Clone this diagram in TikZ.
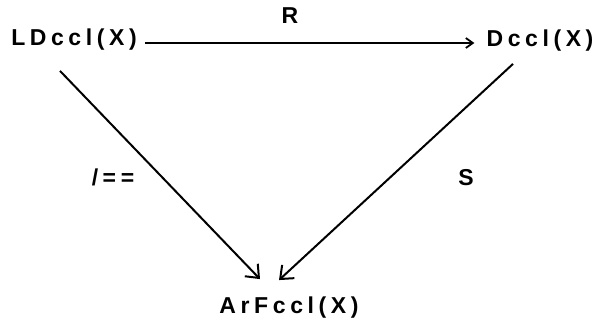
\documentclass[tikz,border=0pt]{standalone}
\usepackage{fontspec}
\setmainfont{Liberation Sans}[LetterSpace=20]
\usetikzlibrary{arrows.meta}
\begin{document}
\begin{tikzpicture}[x=1pt,y=1pt,
  lbl/.style={inner sep=0pt, font=\fontsize{23}{27}\selectfont\bfseries},
  arr/.style={line width=2pt, -{Straight Barb[length=11pt,width=18pt,line width=2pt]}},
  tarr/.style={line width=1.8pt, -{Straight Barb[length=7pt,width=10pt,line width=1.8pt]}}]
\useasboundingbox (0,0) rectangle (599,332);
\node[lbl] (ld) at (74,292) {LDccl(X)};
\node[lbl] (dc) at (540,291) {Dccl(X)};
\node[lbl] (ar) at (289,24) {ArFccl(X)};
\node[lbl] (r) at (290,316) {R};
\node[lbl] (s) at (466,154) {S};
\node[lbl] (f) at (113,155) {/==};
\draw[tarr] ([xshift=8pt,yshift=-3pt]ld.east) -- ([xshift=-12pt,yshift=-2pt]dc.west);
\draw[arr] ([xshift=-14pt,yshift=-20pt]ld.south) -- ([xshift=-29pt,yshift=18pt]ar.north);
\draw[arr] ([xshift=-27pt,yshift=-12pt]dc.south) -- ([xshift=-10pt,yshift=17pt]ar.north);
\end{tikzpicture}
\end{document}
